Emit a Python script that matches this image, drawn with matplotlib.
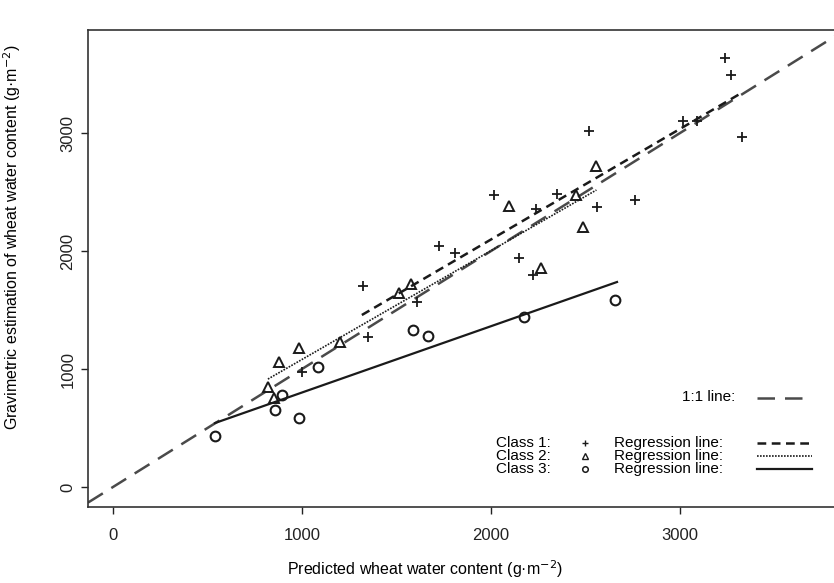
import matplotlib.pyplot as plt
import numpy as np

plt.rcParams['font.family'] = ['Liberation Sans', 'DejaVu Sans']

# classe 1 (+)
c1_x = [1323, 1349, 1000, 1608, 1725, 1810, 2016, 2238, 2349, 2561, 2148, 2222,
        2519, 3016, 3090, 3238, 3270, 3328, 2762]
c1_y = [1703, 1271, 975, 1568, 2042, 1983, 2475, 2356, 2483, 2373, 1941, 1797,
        3017, 3102, 3102, 3636, 3492, 2966, 2432]

# classe 2 (triangulos)
c2_x = [984, 878, 820, 852, 1201, 1513, 1577, 2095, 2450, 2487, 2265, 2556]
c2_y = [1178, 1059, 847, 754, 1229, 1644, 1720, 2381, 2475, 2203, 1856, 2720]

# classe 3 (circulos)
c3_x = [1085, 894, 857, 984, 540, 1587, 1667, 2175, 2656]
c3_y = [1017, 780, 653, 585, 432, 1331, 1280, 1441, 1585]

# retas de regressao: inclinacao, intercepto, intervalo em x
reg_slope = [0.937, 0.922, 0.562]
reg_intercept = [224, 159, 239]
reg_xmin = [1317, 820, 540]
reg_xmax = [3317, 2558, 2667]

xticks = [0, 1000, 2000, 3000]
yticks = [0, 1000, 2000, 3000]
xlim = (-132, 3857)
ylim = (-169, 3873)

fig = plt.figure(figsize=(8.34, 5.83), dpi=100)
ax = fig.add_axes([0.1055, 0.1304, 0.904, 0.818])

# reta 1:1
lim = np.array([xlim[0], xlim[1]])
ax.plot(lim, lim, color='#4a4a4a', lw=1.8, dashes=(7, 4), zorder=1)

estilos = [dict(dashes=(3.5, 2.2), lw=1.8), dict(dashes=(1, 0.8), lw=1.2), dict(ls='-', lw=1.6)]
for k in range(3):
    xs = np.array([reg_xmin[k], reg_xmax[k]])
    ax.plot(xs, reg_slope[k] * xs + reg_intercept[k], color='#1a1a1a', zorder=2, **estilos[k])

ax.plot(c1_x, c1_y, ls='none', marker='+', ms=7, mew=1.3, color='#1a1a1a', zorder=3)
ax.plot(c2_x, c2_y, ls='none', marker='^', ms=6.5, mew=1.4, mfc='none', mec='#1a1a1a', zorder=3)
ax.plot(c3_x, c3_y, ls='none', marker='o', ms=7, mew=1.5, mfc='none', mec='#1a1a1a', zorder=3)

ax.set_xlim(*xlim)
ax.set_ylim(*ylim)
ax.set_xticks(xticks)
ax.set_yticks(yticks)
ax.tick_params(axis='both', direction='out', length=5, width=1, labelsize=12, colors='#222')
ax.tick_params(axis='x', pad=10)
ax.tick_params(axis='y', pad=4, labelrotation=90)
for lab in ax.get_yticklabels():
    lab.set_va('center')

for s in ax.spines.values():
    s.set_color('#333')
    s.set_linewidth(1.2)

ax.set_xlabel('Predicted wheat water content (g·m$^{-2}$)', fontsize=11.5)
ax.set_ylabel('Gravimetric estimation of wheat water content (g·m$^{-2}$)', fontsize=11.5)
ax.xaxis.set_label_coords(0.447, -0.108)
ax.yaxis.set_label_coords(-0.086, 0.566)

# legenda desenhada a mao
fs = 11
ax.text(0.858, 0.231, '1:1 line:', transform=ax.transAxes, ha='right', va='center', fontsize=fs)
ax.plot([0.887, 0.960], [0.229, 0.229], transform=ax.transAxes, color='#4a4a4a', lw=1.8, dashes=(7, 4))

rows_y = [0.134, 0.107, 0.080]
nomes = ['Class 1:', 'Class 2:', 'Class 3:']
marcas = [dict(marker='+', ms=5, mew=1.0, color='#1a1a1a'),
          dict(marker='^', ms=4, mew=1.0, mfc='none', mec='#1a1a1a'),
          dict(marker='o', ms=4, mew=1.1, mfc='none', mec='#1a1a1a')]
for k in range(3):
    yy = rows_y[k]
    ax.text(0.541, yy, nomes[k], transform=ax.transAxes, ha='left', va='center', fontsize=fs)
    ax.plot([0.659], [yy], transform=ax.transAxes, ls='none', **marcas[k])
    ax.text(0.698, yy, 'Regression line:', transform=ax.transAxes, ha='left', va='center', fontsize=fs)
    ax.plot([0.887, 0.960], [yy, yy], transform=ax.transAxes, color='#1a1a1a', **estilos[k])

fig.savefig('out.png', dpi=100)
